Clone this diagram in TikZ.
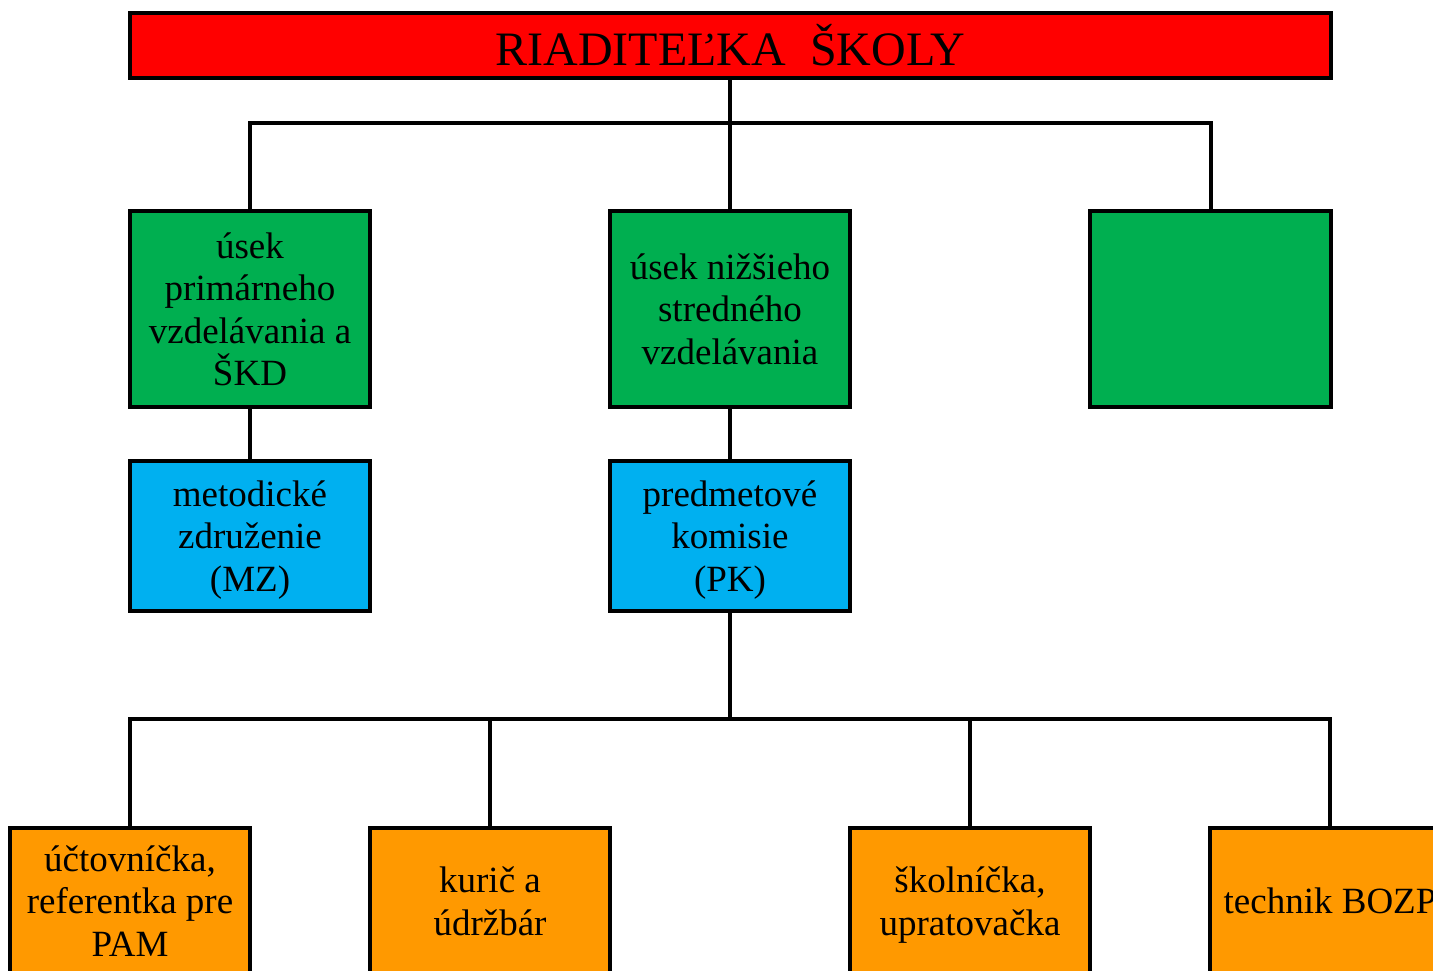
\documentclass[tikz,border=0pt]{standalone}
\usepackage{fontspec}
\setmainfont{Liberation Serif}
\definecolor{titlered}{HTML}{FF0000}
\definecolor{boxgreen}{HTML}{00AF50}
\definecolor{boxblue}{HTML}{00B0F0}
\definecolor{boxorange}{HTML}{FF9900}
\newcommand{\topstrutx}{\rule{0pt}{34pt}}
\newcommand{\botstrutx}{\rule[-8.5pt]{0pt}{8.5pt}}
\begin{document}
\begin{tikzpicture}[x=1pt,y=-1pt,
  box/.style={draw=black, line width=4pt, inner sep=0pt, align=center,
    minimum width=240pt, font=\fontsize{37}{42.5}\selectfont},
  greenbox/.style={box, fill=boxgreen, minimum height=196pt},
  bluebox/.style={box, fill=boxblue, minimum height=150pt},
  orangebox/.style={box, fill=boxorange, minimum height=146pt},
  conn/.style={draw=black, line width=4pt}]
\useasboundingbox (0,0) rectangle (1433,971);
\clip (0,0) rectangle (1433,971);

\node[box, fill=titlered, minimum width=1201pt, minimum height=65pt,
  font=\fontsize{48}{50}\selectfont] (title) at (730.5,45.5) {RIADITEĽKA~~ŠKOLY};

\node[greenbox] (g1) at (250,309) {\topstrutx úsek\\primárneho\\vzdelávania a\\ŠKD\botstrutx};
\node[greenbox] (g2) at (730,309) {\topstrutx úsek nižšieho\\stredného\\vzdelávania\botstrutx};
\node[greenbox, minimum width=241pt] (g3) at (1210.5,309) {};

\node[bluebox] (b1) at (250,536) {\topstrutx metodické\\združenie\\(MZ)\botstrutx};
\node[bluebox] (b2) at (730,536) {\topstrutx predmetové\\komisie\\(PK)\botstrutx};

\node[orangebox] (o1) at (130,901) {\topstrutx účtovníčka,\\referentka pre\\PAM\botstrutx};
\node[orangebox] (o2) at (490,901) {\topstrutx kurič a\\údržbár\botstrutx};
\node[orangebox] (o3) at (970,901) {\topstrutx školníčka,\\upratovačka\botstrutx};
\node[orangebox] (o4) at (1330,901) {\topstrutx technik BOZP\botstrutx};

\coordinate (j1) at (730,123);
\coordinate (j2) at (730,719);

\draw[conn] (g2.north |- title.south) -- (g2.north);
\draw[conn] (g1.north) -- (g1.north |- j1) -- (g3.north |- j1) -- (g3.north);
\draw[conn] (g1.south) -- (b1.north);
\draw[conn] (g2.south) -- (b2.north);
\draw[conn] (b2.south) -- (j2);
\draw[conn] (o1.north) -- (o1.north |- j2) -- (o4.north |- j2) -- (o4.north);
\draw[conn] (o2.north) -- (o2.north |- j2);
\draw[conn] (o3.north) -- (o3.north |- j2);
\end{tikzpicture}
\end{document}
